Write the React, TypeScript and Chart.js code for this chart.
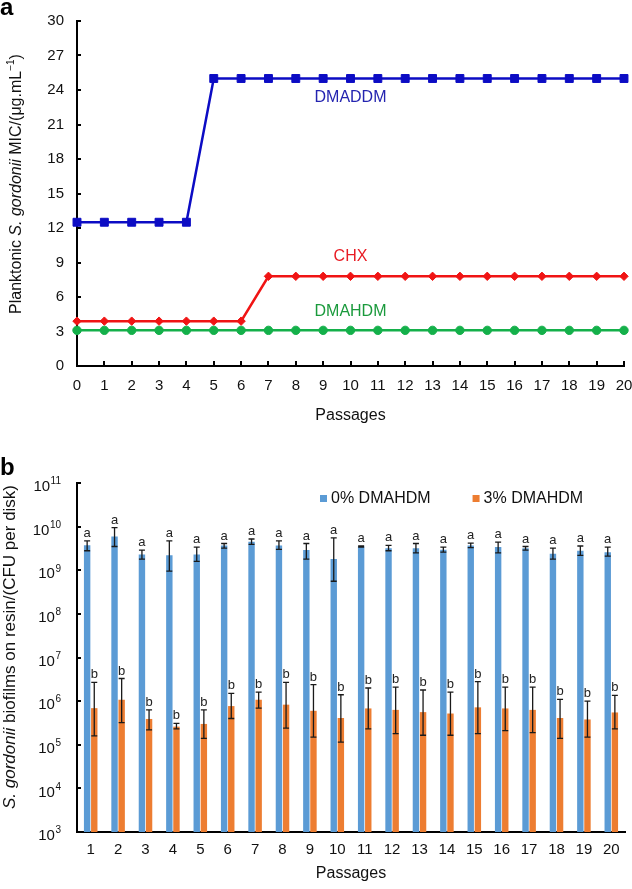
import React, { useEffect, useRef } from "react";
import { Chart, registerables } from "chart.js";

Chart.register(...registerables);

const FONT = '"Liberation Sans", Arial, Helvetica, sans-serif';

// ---------- Panel a data ----------
const PASSAGES_A = ["0", "1", "2", "3", "4", "5", "6", "7", "8", "9", "10", "11", "12", "13", "14", "15", "16", "17", "18", "19", "20"];
const DMADDM_MIC = [12.5, 12.5, 12.5, 12.5, 12.5, 25, 25, 25, 25, 25, 25, 25, 25, 25, 25, 25, 25, 25, 25, 25, 25];
const CHX_MIC = [3.9, 3.9, 3.9, 3.9, 3.9, 3.9, 3.9, 7.8, 7.8, 7.8, 7.8, 7.8, 7.8, 7.8, 7.8, 7.8, 7.8, 7.8, 7.8, 7.8, 7.8];
const DMAHDM_MIC = [3.1, 3.1, 3.1, 3.1, 3.1, 3.1, 3.1, 3.1, 3.1, 3.1, 3.1, 3.1, 3.1, 3.1, 3.1, 3.1, 3.1, 3.1, 3.1, 3.1, 3.1];
const MIC_TICKS = [0, 3, 6, 9, 12, 15, 18, 21, 24, 27, 30];
const SERIES_A = ["DMADDM", "CHX", "DMAHDM"];

// ---------- Panel b data ----------
const PASSAGES_B = ["1", "2", "3", "4", "5", "6", "7", "8", "9", "10", "11", "12", "13", "14", "15", "16", "17", "18", "19", "20"];
const SERIES_B = ["0% DMAHDM", "3% DMAHDM"];
const CONTROL_CFU = [3.75e9, 5.9e9, 2.3e9, 2.2e9, 2.3e9, 3.7e9, 4.5e9, 3.7e9, 2.9e9, 1.8e9, 3.5e9, 3.2e9, 3.2e9, 2.95e9, 3.7e9, 3.4e9, 3.2e9, 2.4e9, 2.8e9, 2.6e9];
const CONTROL_LOW = [2.8e9, 3.5e9, 1.8e9, 9.5e8, 1.6e9, 3.2e9, 3.9e9, 3.0e9, 1.8e9, 5.6e8, 3.4e9, 2.8e9, 2.5e9, 2.6e9, 3.3e9, 2.5e9, 2.9e9, 1.8e9, 2.2e9, 2.1e9];
const CONTROL_HIGH = [4.7e9, 9.5e9, 2.9e9, 4.7e9, 3.4e9, 4.1e9, 5.2e9, 4.7e9, 4.1e9, 5.5e9, 3.6e9, 3.7e9, 4.1e9, 3.4e9, 4.2e9, 4.4e9, 3.5e9, 3.2e9, 3.6e9, 3.4e9];
const CONTROL_LETTERS = ["a", "a", "a", "a", "a", "a", "a", "a", "a", "a", "a", "a", "a", "a", "a", "a", "a", "a", "a", "a"];
const DMAHDM3_CFU = [6.9e5, 1.07e6, 3.9e5, 2.6e5, 3.0e5, 7.7e5, 1.07e6, 8.3e5, 6.0e5, 4.1e5, 6.8e5, 6.3e5, 5.6e5, 5.2e5, 7.2e5, 6.8e5, 6.3e5, 4.1e5, 3.8e5, 5.5e5];
const DMAHDM3_LOW = [1.6e5, 3.2e5, 2.2e5, 2.3e5, 1.4e5, 4.0e5, 6.9e5, 2.4e5, 1.5e5, 1.15e5, 2.3e5, 1.8e5, 1.65e5, 1.65e5, 1.8e5, 2.1e5, 1.9e5, 1.4e5, 1.5e5, 2.3e5];
const DMAHDM3_HIGH = [2.7e6, 3.3e6, 6.3e5, 3.1e5, 6.3e5, 1.5e6, 1.6e6, 2.7e6, 2.4e6, 1.4e6, 2.0e6, 2.1e6, 1.8e6, 1.6e6, 2.8e6, 2.1e6, 2.1e6, 1.1e6, 1.0e6, 1.35e6];
const DMAHDM3_LETTERS = ["b", "b", "b", "b", "b", "b", "b", "b", "b", "b", "b", "b", "b", "b", "b", "b", "b", "b", "b", "b"];
const LOG_EXPONENTS = [3, 4, 5, 6, 7, 8, 9, 10, 11];

const ERRORS_B = [
  { low: CONTROL_LOW, high: CONTROL_HIGH, letters: CONTROL_LETTERS },
  { low: DMAHDM3_LOW, high: DMAHDM3_HIGH, letters: DMAHDM3_LETTERS },
];

type Seg = { text: string; italic?: boolean; sup?: boolean };

function drawRotated(ctx: CanvasRenderingContext2D, segs: Seg[], cx: number, cy: number, size: number) {
  ctx.save();
  ctx.translate(cx, cy);
  ctx.rotate(-Math.PI / 2);
  ctx.textBaseline = "middle";
  ctx.textAlign = "left";
  ctx.fillStyle = "#111";
  const fontFor = (s: Seg) => `${s.italic ? "italic " : ""}${s.sup ? Math.round(size * 0.65) : size}px ${FONT}`;
  let total = 0;
  for (const s of segs) {
    ctx.font = fontFor(s);
    total += ctx.measureText(s.text).width;
  }
  let x = -total / 2;
  for (const s of segs) {
    ctx.font = fontFor(s);
    ctx.fillText(s.text, x, s.sup ? -size * 0.33 : 0);
    x += ctx.measureText(s.text).width;
  }
  ctx.restore();
}

const LABEL_DY = [19, -20, -19];

const panelAPlugin = {
  id: "panelA",
  beforeDatasetsDraw(chart: any) {
    const { ctx, chartArea, scales } = chart;
    ctx.save();
    ctx.strokeStyle = "#000";
    ctx.lineWidth = 2;
    MIC_TICKS.forEach((v) => {
      if (v === 0) return;
      const py = Math.round(scales.y.getPixelForValue(v));
      ctx.beginPath();
      ctx.moveTo(chartArea.left, py);
      ctx.lineTo(chartArea.left + 4, py);
      ctx.stroke();
    });
    PASSAGES_A.forEach((_, i) => {
      if (i === 0) return;
      const px = Math.round(scales.x.getPixelForValue(i));
      ctx.beginPath();
      ctx.moveTo(px, chartArea.bottom);
      ctx.lineTo(px, chartArea.bottom - 5);
      ctx.stroke();
    });
    ctx.restore();
  },
  afterDraw(chart: any) {
    const { ctx, scales } = chart;
    ctx.save();
    ctx.font = `16px ${FONT}`;
    ctx.textAlign = "center";
    ctx.textBaseline = "middle";
    chart.data.datasets.forEach((ds: any, i: number) => {
      const px = scales.x.getPixelForValue(10);
      const py = scales.y.getPixelForValue(ds.data[10]) + LABEL_DY[i];
      ctx.fillStyle = ds.labelColor;
      ctx.fillText(ds.label, px, py);
    });
    ctx.font = `bold 24px ${FONT}`;
    ctx.textAlign = "left";
    ctx.textBaseline = "alphabetic";
    ctx.fillStyle = "#000";
    ctx.fillText("a", 0, 15);
    ctx.restore();
    drawRotated(
      ctx,
      [
        { text: "Planktonic " },
        { text: "S. gordonii", italic: true },
        { text: " MIC/(μg.mL" },
        { text: "−1", sup: true },
        { text: ")" },
      ],
      17,
      184,
      16
    );
  },
};

const panelBPlugin = {
  id: "panelB",
  beforeDatasetsDraw(chart: any) {
    const { ctx, chartArea, scales } = chart;
    ctx.save();
    ctx.strokeStyle = "#000";
    ctx.lineWidth = 2;
    LOG_EXPONENTS.forEach((e) => {
      if (e === LOG_EXPONENTS[0]) return;
      const py = Math.round(scales.y.getPixelForValue(Math.pow(10, e)));
      ctx.beginPath();
      ctx.moveTo(chartArea.left, py);
      ctx.lineTo(chartArea.left + 4, py);
      ctx.stroke();
    });
    ctx.restore();
  },
  afterDatasetsDraw(chart: any) {
    const { ctx, scales } = chart;
    ctx.save();
    ERRORS_B.forEach((err, di) => {
      const meta = chart.getDatasetMeta(di);
      meta.data.forEach((bar: any, i: number) => {
        const x = bar.x;
        const yHi = scales.y.getPixelForValue(err.high[i]);
        const yLo = scales.y.getPixelForValue(err.low[i]);
        ctx.strokeStyle = "#1a1a1a";
        ctx.lineWidth = 1.3;
        ctx.beginPath();
        ctx.moveTo(x, yHi);
        ctx.lineTo(x, yLo);
        ctx.moveTo(x - 3, yHi);
        ctx.lineTo(x + 3, yHi);
        ctx.moveTo(x - 3, yLo);
        ctx.lineTo(x + 3, yLo);
        ctx.stroke();
        ctx.fillStyle = "#222";
        ctx.font = `13px ${FONT}`;
        ctx.textAlign = "center";
        ctx.textBaseline = "alphabetic";
        ctx.fillText(err.letters[i], x, yHi - 4);
      });
    });
    ctx.restore();
  },
  afterDraw(chart: any) {
    const { ctx, scales } = chart;
    ctx.save();
    // y tick labels with superscripts
    ctx.fillStyle = "#111";
    LOG_EXPONENTS.forEach((e) => {
      const py = scales.y.getPixelForValue(Math.pow(10, e));
      const exp = String(e);
      ctx.font = `10px ${FONT}`;
      const supW = ctx.measureText(exp).width;
      const baseRight = 61 - supW - 0.5;
      ctx.font = `15px ${FONT}`;
      ctx.textAlign = "right";
      ctx.textBaseline = "middle";
      ctx.fillText("10", baseRight, py + 4);
      ctx.font = `10px ${FONT}`;
      ctx.textAlign = "left";
      ctx.fillText(exp, baseRight + 0.5, py - 1.5);
    });
    // legend
    let lx = 320;
    const ly = 58.5;
    ctx.font = `16px ${FONT}`;
    ctx.textBaseline = "middle";
    ctx.textAlign = "left";
    chart.data.datasets.forEach((ds: any) => {
      ctx.fillStyle = ds.backgroundColor;
      ctx.fillRect(lx, ly - 3.5, 7, 7);
      lx += 11;
      ctx.fillStyle = "#111";
      ctx.fillText(ds.label, lx, ly + 0.5);
      lx += ctx.measureText(ds.label).width + 42;
    });
    ctx.font = `bold 24px ${FONT}`;
    ctx.textAlign = "left";
    ctx.textBaseline = "alphabetic";
    ctx.fillStyle = "#000";
    ctx.fillText("b", 0, 35);
    ctx.restore();
    drawRotated(
      ctx,
      [{ text: "S. gordonii", italic: true }, { text: " biofilms on resin/(CFU per disk)" }],
      10,
      207,
      17
    );
  },
};

const tickFont = { size: 15, family: FONT };
const titleFont = { size: 16, family: FONT };

function configA(): any {
  const mk = (label: string, data: number[], color: string, labelColor: string, style: string, r: number) => ({
    label,
    data,
    borderColor: color,
    backgroundColor: color,
    pointBackgroundColor: color,
    pointBorderColor: color,
    pointBorderWidth: 1,
    pointStyle: style,
    pointRadius: r,
    borderWidth: 2.5,
    tension: 0,
    clip: false,
    labelColor,
  });
  return {
    type: "line",
    data: {
      labels: PASSAGES_A,
      datasets: [
        mk(SERIES_A[0], DMADDM_MIC, "#0c0cc4", "#2424b0", "rect", 5.6),
        mk(SERIES_A[1], CHX_MIC, "#f01414", "#e81c24", "rectRot", 4.2),
        mk(SERIES_A[2], DMAHDM_MIC, "#14b04a", "#1a9a3c", "circle", 4.2),
      ],
    },
    options: {
      animation: false,
      responsive: false,
      events: [],
      layout: { padding: { left: 0, right: 8, top: 21, bottom: 0 } },
      plugins: { legend: { display: false }, tooltip: { enabled: false } },
      scales: {
        x: {
          type: "category",
          offset: false,
          grid: { display: false, drawTicks: false },
          border: { display: true, color: "#000", width: 2 },
          ticks: { font: tickFont, color: "#111", padding: 11, maxRotation: 0, autoSkip: false },
          title: { display: true, text: "Passages", font: titleFont, color: "#111", padding: { top: 0, bottom: 15 } },
          afterFit: (s: any) => {
            s.height = 74;
            s.paddingLeft = 0;
            s.paddingRight = 0;
          },
        },
        y: {
          type: "linear",
          min: 0,
          max: 30,
          grid: { display: false, drawTicks: false },
          border: { display: true, color: "#000", width: 2 },
          ticks: { font: tickFont, color: "#111", padding: 13 },
          afterBuildTicks: (s: any) => {
            s.ticks = MIC_TICKS.map((v) => ({ value: v }));
          },
          afterFit: (s: any) => {
            s.width = 77;
            s.paddingTop = 0;
            s.paddingBottom = 0;
          },
        },
      },
    },
    plugins: [panelAPlugin],
  };
}

function configB(): any {
  return {
    type: "bar",
    data: {
      labels: PASSAGES_B,
      datasets: [
        { label: SERIES_B[0], data: CONTROL_CFU, backgroundColor: "#5b9bd5", categoryPercentage: 0.52, barPercentage: 0.9 },
        { label: SERIES_B[1], data: DMAHDM3_CFU, backgroundColor: "#ed7d31", categoryPercentage: 0.52, barPercentage: 0.9 },
      ],
    },
    options: {
      animation: false,
      responsive: false,
      events: [],
      layout: { padding: { left: 0, right: 7, top: 43, bottom: 0 } },
      plugins: { legend: { display: false }, tooltip: { enabled: false } },
      scales: {
        x: {
          type: "category",
          offset: true,
          grid: { display: false, drawTicks: false },
          border: { display: true, color: "#000", width: 2 },
          ticks: { font: tickFont, color: "#111", padding: 9, maxRotation: 0, autoSkip: false },
          title: { display: true, text: "Passages", font: titleFont, color: "#111", padding: { top: 0, bottom: 6 } },
          afterFit: (s: any) => {
            s.height = 57;
            s.paddingLeft = 0;
            s.paddingRight = 0;
          },
        },
        y: {
          type: "logarithmic",
          min: 1e3,
          max: 1e11,
          grid: { display: false, drawTicks: false },
          border: { display: true, color: "#000", width: 2 },
          ticks: { display: false },
          afterFit: (s: any) => {
            s.width = 77;
            s.paddingTop = 0;
            s.paddingBottom = 0;
          },
        },
      },
    },
    plugins: [panelBPlugin],
  };
}

export default function App() {
  const refA = useRef<HTMLCanvasElement>(null);
  const refB = useRef<HTMLCanvasElement>(null);
  useEffect(() => {
    const a = new Chart(refA.current as HTMLCanvasElement, configA());
    const b = new Chart(refB.current as HTMLCanvasElement, configB());
    return () => {
      a.destroy();
      b.destroy();
    };
  }, []);
  return (
    <div style={{ position: "fixed", left: 0, top: 0, width: 632, height: 889, background: "#fff" }}>
      <canvas ref={refA} width={632} height={440} style={{ position: "absolute", left: 0, top: 0, width: 632, height: 440 }} />
      <canvas ref={refB} width={632} height={449} style={{ position: "absolute", left: 0, top: 440, width: 632, height: 449 }} />
    </div>
  );
}
